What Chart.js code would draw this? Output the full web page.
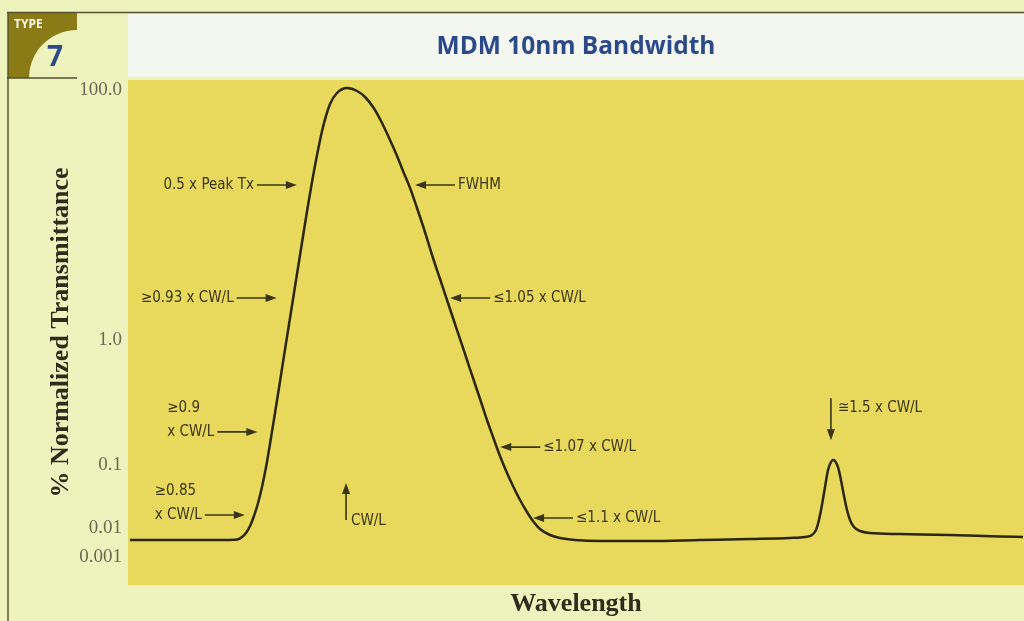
<!DOCTYPE html>
<html>
<head>
<meta charset="utf-8">
<script src="https://cdn.jsdelivr.net/npm/chart.js@4.4.1/dist/chart.umd.min.js"></script>
<style>
  html, body { margin: 0; padding: 0; background: #eef2bd; }
  #c { display: block; }
</style>
</head>
<body>
<canvas id="c" width="1024" height="621"></canvas>
<script>
// ---- data (relative wavelength = wavelength / CW/L, % normalized transmittance) ----
const wavelength = [
  0.7749,0.8734,0.8859,0.8911,0.8952,0.8994,0.9035,0.9077,0.9118,0.9160,0.9201,0.9243,0.9295,0.9346,0.9398,0.9450,0.9502,0.9554,0.9595,0.9637,0.9689,0.9751,0.9824,0.9896,1.0000,
  1.0104,1.0187,1.0270,1.0353,1.0446,1.0519,1.0581,1.0654,1.0726,1.0809,1.0892,1.0965,1.1037,1.1110,1.1172,1.1245,1.1307,1.1380,1.1452,1.1515,1.1587,1.1660,1.1722,1.1795,1.1867,1.1929,1.2002,1.2106,1.2210,1.2365,
  1.2624,1.3143,1.3662,1.4180,1.4595,1.4751,1.4824,1.4865,1.4896,1.4927,1.4959,1.4990,1.5021,1.5041,1.5062,1.5093,1.5124,1.5156,1.5187,1.5218,1.5259,1.5322,1.5425,1.5737,1.6255,1.6774,1.7012];
const transmittance = [
  0.00386,0.00386,0.00401,0.00489,0.00672,0.01076,0.0155,0.0249,0.0448,0.0930,0.1472,0.2333,0.4169,0.7447,1.330,2.377,4.246,7.586,11.91,18.37,30.20,50.58,77.27,94.62,103.8,
  98.2,87.9,73.1,56.5,39.81,29.65,22.49,16.44,11.38,7.31,4.529,3.076,2.089,1.419,1.019,0.6918,0.4966,0.3373,0.2291,0.1675,0.1180,0.0746,0.0464,0.0278,0.01795,0.01292,0.00924,0.00574,0.00452,0.00386,
  0.00356,0.00356,0.00386,0.00418,0.00452,0.00489,0.00574,0.00853,0.0134,0.0232,0.0448,0.0833,0.1057,0.1096,0.1076,0.0930,0.0578,0.0322,0.0193,0.0134,0.01037,0.00788,0.00672,0.00621,0.00574,0.00509,0.00489];
const tickValues = [100, 1, 0.1, 0.01, 0.001];
const tickLabels = ['100.0', '1.0', '0.1', '0.01', '0.001'];
const titleText = 'MDM 10nm Bandwidth';
const yTitle = '% Normalized Transmittance';
const xTitle = 'Wavelength';
// annotation arrows: tip at (x: relative wavelength, y: % transmittance)
const notes = [
  { lines: ['0.5 x Peak Tx'], x: 0.948, y: 17.4, dir: 'right' },
  { lines: ['FWHM'], x: 1.0705, y: 17.4, dir: 'left' },
  { lines: ['\u22650.93 x CW/L'], x: 0.927, y: 2.17, dir: 'right' },
  { lines: ['\u22641.05 x CW/L'], x: 1.107, y: 2.17, dir: 'left' },
  { lines: ['\u22650.9', 'x CW/L'], x: 0.907, y: 0.184, dir: 'right' },
  { lines: ['\u22641.07 x CW/L'], x: 1.159, y: 0.139, dir: 'left' },
  { lines: ['\u22650.85', 'x CW/L'], x: 0.894, y: 0.0161, dir: 'right' },
  { lines: ['\u22641.1 x CW/L'], x: 1.193, y: 0.0144, dir: 'left' },
  { lines: ['CW/L'], x: 0.999, y: 0.0518, dir: 'up' },
  { lines: ['\u22451.5 x CW/L'], x: 1.502, y: 0.158, dir: 'down' }
];

// ---- axis warp: the printed axis is logarithmic above 0.1 and compressed below ----
const warpLog = [-3, -2, -1, 2];
const warpUnit = [0.224, 0.456, 0.96, 3.96];
function warp(v) {
  const L = Math.log10(v);
  let i = 0;
  if (L <= warpLog[0]) i = 0;
  else if (L >= warpLog[warpLog.length - 1]) i = warpLog.length - 2;
  else { while (L > warpLog[i + 1]) i++; }
  const t = (L - warpLog[i]) / (warpLog[i + 1] - warpLog[i]);
  return warpUnit[i] + t * (warpUnit[i + 1] - warpUnit[i]);
}

const points = wavelength.map((w, i) => ({ x: w, y: warp(transmittance[i]) }));

const PAGE_BG = '#eef2bd';
const BAND_BG = '#f4f7ef';
const PLOT_BG = '#e8d95c';
const INK = '#3a3418';
const RULE = '#55522f';
const BLUE = '#2c4a8a';
const OLIVE = '#8a7b16';

const backdrop = {
  id: 'backdrop',
  beforeDraw(chart) {
    const { ctx, chartArea: a, width, height } = chart;
    ctx.save();
    ctx.fillStyle = PAGE_BG;
    ctx.fillRect(0, 0, width, height);
    // title band
    ctx.fillStyle = BAND_BG;
    ctx.fillRect(a.left, 14, width - a.left, 63);
    // plot area
    ctx.fillStyle = PLOT_BG;
    ctx.fillRect(a.left, a.top, a.right - a.left, a.bottom - a.top);
    // badge
    ctx.fillStyle = OLIVE;
    ctx.fillRect(8, 13, 69, 65);
    ctx.save();
    ctx.beginPath();
    ctx.rect(8, 13, 69, 65);
    ctx.clip();
    ctx.fillStyle = PAGE_BG;
    ctx.beginPath();
    ctx.arc(77, 78, 48, 0, Math.PI * 2);
    ctx.fill();
    ctx.restore();
    ctx.fillStyle = '#fbfbe8';
    ctx.font = 'bold 12px "Open Sans", "Liberation Sans", sans-serif';
    ctx.textAlign = 'left';
    ctx.textBaseline = 'middle';
    ctx.fillText('TYPE', 14, 25);
    ctx.fillStyle = BLUE;
    ctx.font = 'bold 28px "Open Sans", "Liberation Sans", sans-serif';
    ctx.textAlign = 'center';
    ctx.fillText('7', 55, 58);
    // rules
    ctx.strokeStyle = RULE;
    ctx.lineWidth = 1.5;
    ctx.beginPath();
    ctx.moveTo(7, 12.5); ctx.lineTo(width, 12.5);
    ctx.moveTo(8, 12); ctx.lineTo(8, height);
    ctx.moveTo(7, 78); ctx.lineTo(77, 78);
    ctx.stroke();
    // title
    ctx.fillStyle = BLUE;
    ctx.font = 'bold 24.5px "Open Sans", "Liberation Sans", sans-serif';
    ctx.textAlign = 'center';
    ctx.textBaseline = 'middle';
    ctx.fillText(titleText, (a.left + width) / 2, 47);
    ctx.restore();
  }
};

function arrowHead(ctx, x, y, ang) {
  const L = 11, W = 4;
  ctx.beginPath();
  ctx.moveTo(x, y);
  ctx.lineTo(x - L * Math.cos(ang) + W * Math.sin(ang), y - L * Math.sin(ang) - W * Math.cos(ang));
  ctx.lineTo(x - L * Math.cos(ang) - W * Math.sin(ang), y - L * Math.sin(ang) + W * Math.cos(ang));
  ctx.closePath();
  ctx.fill();
}

const annot = {
  id: 'annot',
  afterDatasetsDraw(chart) {
    const { ctx, scales: { x, y } } = chart;
    ctx.save();
    ctx.fillStyle = INK;
    ctx.strokeStyle = INK;
    ctx.lineWidth = 1.6;
    ctx.font = '15px "Liberation Sans Narrow", "DejaVu Sans Condensed", sans-serif';
    ctx.textBaseline = 'middle';
    const len = 40, gap = 3, lh = 24;
    notes.forEach(n => {
      const px = x.getPixelForValue(n.x);
      const py = y.getPixelForValue(warp(n.y));
      ctx.beginPath();
      if (n.dir === 'right') {
        ctx.moveTo(px - len, py); ctx.lineTo(px - 6, py); ctx.stroke();
        arrowHead(ctx, px, py, 0);
        const last = n.lines[n.lines.length - 1];
        const left = px - len - gap - ctx.measureText(last).width;
        ctx.textAlign = 'left';
        n.lines.forEach((t, i) => ctx.fillText(t, left, py - (n.lines.length - 1 - i) * lh));
      } else if (n.dir === 'left') {
        ctx.moveTo(px + len, py); ctx.lineTo(px + 6, py); ctx.stroke();
        arrowHead(ctx, px, py, Math.PI);
        ctx.textAlign = 'left';
        n.lines.forEach((t, i) => ctx.fillText(t, px + len + gap, py - (n.lines.length - 1 - i) * lh));
      } else if (n.dir === 'up') {
        ctx.moveTo(px, py + 37); ctx.lineTo(px, py + 6); ctx.stroke();
        arrowHead(ctx, px, py, -Math.PI / 2);
        ctx.textAlign = 'left';
        ctx.fillText(n.lines[0], px + 5, py + 38);
      } else {
        ctx.moveTo(px, py - 42); ctx.lineTo(px, py - 6); ctx.stroke();
        arrowHead(ctx, px, py, Math.PI / 2);
        ctx.textAlign = 'left';
        ctx.fillText(n.lines[0], px + 7, py - 32);
      }
    });
    ctx.restore();
  }
};

new Chart(document.getElementById('c'), {
  type: 'line',
  data: {
    datasets: [{
      data: points,
      borderColor: '#2a2610',
      borderWidth: 2.5,
      pointRadius: 0,
      fill: false,
      cubicInterpolationMode: 'monotone'
    }]
  },
  options: {
    responsive: false,
    animation: false,
    events: [],
    layout: { padding: { left: 0, right: 0, top: 80, bottom: 0 } },
    plugins: { legend: { display: false }, tooltip: { enabled: false }, title: { display: false } },
    scales: {
      x: {
        type: 'linear',
        min: 0.7728,
        max: 1.7023,
        grid: { display: false, drawTicks: false },
        border: { display: false },
        ticks: { display: false },
        title: {
          display: true, text: xTitle, color: '#2f2c1c',
          font: { family: '"Liberation Serif", "DejaVu Serif", serif', size: 26, weight: 'bold' },
          padding: { top: 0, bottom: 1 }
        },
        afterFit(s) { s.height = 36; }
      },
      y: {
        type: 'linear',
        min: 0,
        max: 4.04,
        grid: { display: false, drawTicks: false },
        border: { display: false },
        afterBuildTicks(s) { s.ticks = tickValues.map(v => ({ value: warp(v) })); },
        ticks: {
          autoSkip: false,
          padding: 6,
          color: '#6b6953',
          font: { family: '"Liberation Serif", "DejaVu Serif", serif', size: 19 },
          callback: (v, i) => tickLabels[i]
        },
        title: {
          display: true, text: yTitle, color: '#2f2c1c',
          font: { family: '"Liberation Serif", "DejaVu Serif", serif', size: 26, weight: 'bold' },
          padding: { top: 46, bottom: 0 }
        },
        afterFit(s) { s.width = 128; }
      }
    }
  },
  plugins: [backdrop, annot]
});
</script>
</body>
</html>
